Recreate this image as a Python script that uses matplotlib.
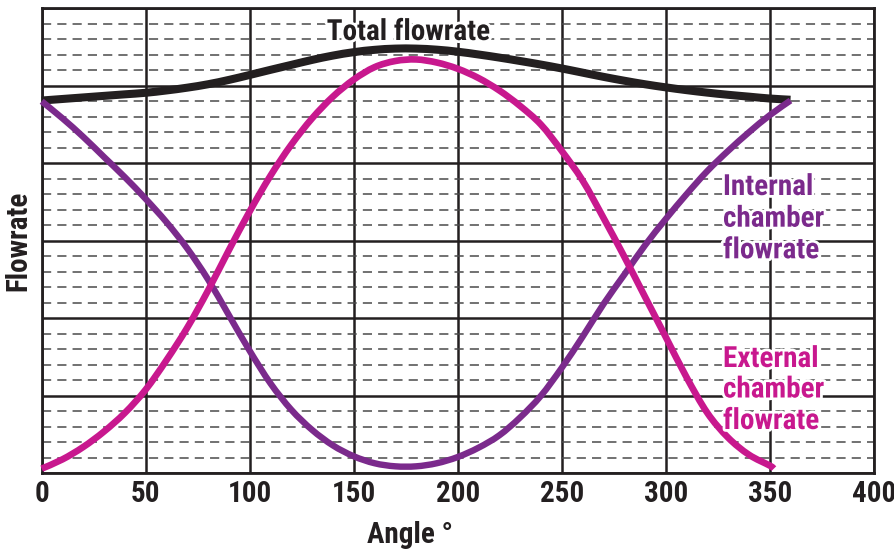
import matplotlib
matplotlib.use("Agg")
import matplotlib.pyplot as plt
from matplotlib import font_manager
from matplotlib.path import Path
from matplotlib.patches import PathPatch
import matplotlib.patheffects as pe

# ---------------- data ----------------
angle_total = [0, 10, 20, 30, 40, 50, 60, 70, 80, 90, 100, 110, 120, 130, 140, 150, 160, 170, 180,
               190, 200, 210, 220, 230, 240, 250, 260, 270, 280, 290, 300, 310, 320, 330, 340, 350, 360]
total_flow = [24.05, 24.15, 24.25, 24.35, 24.45, 24.55, 24.7, 24.88, 25.1, 25.38, 25.7, 26.03, 26.35,
              26.67, 26.95, 27.17, 27.32, 27.4, 27.4, 27.33, 27.2, 27.02, 26.82, 26.6, 26.37, 26.12,
              25.85, 25.58, 25.33, 25.1, 24.9, 24.72, 24.56, 24.42, 24.3, 24.18, 24.1]

angle_internal = angle_total
internal_flow = [24.0, 22.9, 21.7, 20.4, 19.1, 17.7, 16.2, 14.5, 12.5, 10.2, 7.9, 5.8, 4.1, 2.8, 1.8,
                 1.1, 0.65, 0.45, 0.45, 0.65, 1.05, 1.65, 2.45, 3.6, 5.0, 6.8, 8.8, 10.9, 12.8, 14.7,
                 16.4, 18.0, 19.5, 20.8, 22.0, 23.1, 24.05]

angle_external = [0, 10, 20, 30, 40, 50, 60, 70, 80, 90, 100, 110, 120, 130, 140, 150, 160, 170, 180,
                  190, 200, 210, 220, 230, 240, 250, 260, 270, 280, 290, 300, 310, 320, 330, 340, 350, 352]
external_flow = [0.3, 0.9, 1.7, 2.7, 3.9, 5.4, 7.3, 9.4, 11.8, 14.4, 16.9, 19.2, 21.2, 22.9, 24.3, 25.4,
                 26.2, 26.6, 26.7, 26.5, 26.1, 25.5, 24.7, 23.7, 22.5, 20.8, 18.9, 16.5, 14.0, 11.4,
                 8.8, 6.2, 3.9, 2.3, 1.2, 0.5, 0.3]

x_ticks = [0, 50, 100, 150, 200, 250, 300, 350, 400]
x_tick_labels = ["0", "50", "100", "150", "200", "250", "300", "350", "400"]

# ---------------- style ----------------
available = {f.name for f in font_manager.fontManager.ttflist}
family = "DejaVu Sans"
for cand in ["Liberation Sans Narrow", "Roboto Condensed", "Open Sans Condensed", "Arial Narrow"]:
    if cand in available:
        family = cand
        break
plt.rcParams["font.family"] = [family, "DejaVu Sans"]
plt.rcParams["font.weight"] = "bold"

BLACK = "#231f20"
PURPLE = "#7b2a8c"
MAGENTA = "#c8188e"
FS = 21

fig = plt.figure(figsize=(8.95, 5.49), dpi=100)
ax = fig.add_axes([41.7 / 895, 1 - 473.3 / 549, (873.7 - 41.7) / 895, (473.3 - 8.3) / 549])

ax.set_xlim(0, 400)
ax.set_ylim(0, 30)
ax.set_xticks(x_ticks)
ax.set_xticklabels(x_tick_labels, fontsize=FS, fontweight="bold", color=BLACK)
ax.set_yticks(range(0, 31, 5))
ax.set_yticks(range(0, 31, 1), minor=True)
ax.set_yticklabels([])
ax.tick_params(axis="both", which="both", length=0, pad=5)

ax.grid(True, axis="x", which="major", color=BLACK, lw=1.8)
ax.grid(True, axis="y", which="major", color=BLACK, lw=1.8)
ax.grid(True, axis="y", which="minor", color="#4a4a4a", lw=1.1, linestyle=(0, (6.0, 4.0)))
ax.set_axisbelow(True)
for s in ax.spines.values():
    s.set_color(BLACK)
    s.set_linewidth(2.0)


def smooth_path(xs, ys):
    """Catmull-Rom spline through the data points, expressed as cubic Bezier segments."""
    pts = list(zip(xs, ys))
    verts = [pts[0]]
    codes = [Path.MOVETO]
    n = len(pts)
    for i in range(n - 1):
        p0 = pts[i - 1] if i > 0 else pts[i]
        p1 = pts[i]
        p2 = pts[i + 1]
        p3 = pts[i + 2] if i + 2 < n else pts[i + 1]
        c1 = (p1[0] + (p2[0] - p0[0]) / 6.0, p1[1] + (p2[1] - p0[1]) / 6.0)
        c2 = (p2[0] - (p3[0] - p1[0]) / 6.0, p2[1] - (p3[1] - p1[1]) / 6.0)
        verts += [c1, c2, p2]
        codes += [Path.CURVE4] * 3
    return Path(verts, codes)


for xs, ys, col, lw, z in [(angle_total, total_flow, BLACK, 5.8, 3),
                           (angle_internal, internal_flow, PURPLE, 4.6, 4),
                           (angle_external, external_flow, MAGENTA, 4.8, 5)]:
    patch = PathPatch(smooth_path(xs, ys), facecolor="none", edgecolor=col, lw=lw,
                      capstyle="butt", joinstyle="round", zorder=z, clip_on=False)
    ax.add_patch(patch)

stroke = [pe.withStroke(linewidth=4, foreground="white")]


def px2data(px, py):
    return (px - 41.7) / 2.08, (473.3 - py) / 15.5


tx, ty = px2data(326.7, 40)
ax.text(tx, ty, "Total flowrate", fontsize=FS, fontweight="bold", color=BLACK,
        ha="left", va="baseline", path_effects=stroke, zorder=6)

for line, py in zip(["Internal", "chamber", "flowrate"], [195, 226.7, 258.3]):
    tx, ty = px2data(723, py)
    ax.text(tx, ty, line, fontsize=FS, fontweight="bold", color=PURPLE,
            ha="left", va="baseline", path_effects=stroke, zorder=6)

for line, py in zip(["External", "chamber", "flowrate"], [367, 397.5, 429]):
    tx, ty = px2data(723, py)
    ax.text(tx, ty, line, fontsize=FS, fontweight="bold", color=MAGENTA,
            ha="left", va="baseline", path_effects=stroke, zorder=6)

fig.text(18 / 895, 1 - 241 / 549, "Flowrate", rotation=90, fontsize=FS, fontweight="bold",
         color=BLACK, ha="center", va="center")
fig.text(367 / 895, 1 - 543 / 549, "Angle °", fontsize=FS, fontweight="bold",
         color=BLACK, ha="left", va="baseline")

fig.savefig("out.png", dpi=100)
